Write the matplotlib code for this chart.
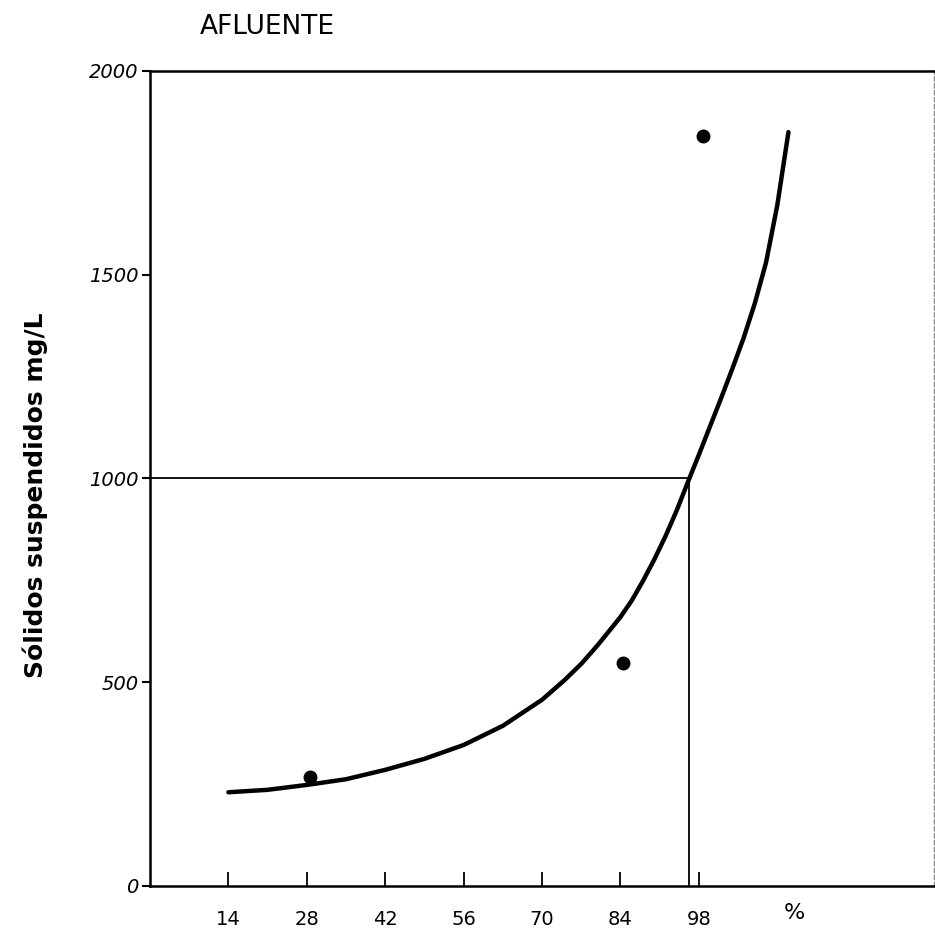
import matplotlib.pyplot as plt

# puntos medidos (% vs solidos suspendidos)
x_puntos = [28.5, 84.5, 98.7]
y_puntos = [268, 548, 1840]

# curva de ajuste trazada a mano
x_curva = [14, 21, 28, 35, 42, 49, 56, 63, 70, 74, 77, 80, 84, 86, 88, 90, 92, 94, 96.3,
           98, 100, 102, 104, 106, 108, 110, 112, 114]
y_curva = [230, 236, 248, 262, 285, 312, 346, 393, 457, 505, 545, 592, 660, 700, 748, 800, 857, 920, 1000,
           1058, 1128, 1198, 1270, 1345, 1430, 1530, 1670, 1850]

# lectura a 1000 mg/L
x_ref = 96.3
y_ref = 1000

x_ticks = [14, 28, 42, 56, 70, 84, 98]
y_ticks = [0, 500, 1000, 1500, 2000]

fig = plt.figure(figsize=(9.35, 9.34), dpi=100)
ax = fig.add_axes([0.1604, 0.0514, 0.8386, 0.8726])

ax.plot(x_curva, y_curva, color='black', linewidth=3.2, solid_capstyle='round', solid_joinstyle='round')
ax.plot(x_puntos, y_puntos, 'o', color='black', markersize=9)

ax.plot([0, x_ref], [y_ref, y_ref], color='black', linewidth=1.3)
ax.plot([x_ref, x_ref], [0, y_ref], color='black', linewidth=1.3)

ax.set_xlim(0, 140)
ax.set_ylim(0, 2000)

for lado in ['left', 'bottom', 'top']:
    ax.spines[lado].set_linewidth(1.8)
ax.spines['right'].set_linestyle((0, (3, 2)))
ax.spines['right'].set_color('#888888')
ax.spines['right'].set_linewidth(1.0)

ax.set_yticks(y_ticks)
ax.set_yticklabels([str(v) for v in y_ticks], fontsize=14, style='italic')
ax.tick_params(axis='y', direction='out', length=6, width=1.5, pad=2)

ax.set_xticks(x_ticks)
ax.set_xticklabels([str(v) for v in x_ticks], fontsize=14)
ax.tick_params(axis='x', direction='in', length=10, width=1.3, pad=17)

ax.text(115, -0.033, '%', transform=ax.get_xaxis_transform(), fontsize=16, ha='center', va='center')

ax.set_ylabel('Sólidos suspendidos mg/L', fontsize=18, fontweight='bold')
ax.yaxis.set_label_coords(-0.13, 0.479)

fig.text(200 / 935, 1 - 27 / 934, 'AFLUENTE', fontsize=19, ha='left', va='center')

fig.savefig('out.png', dpi=100)
